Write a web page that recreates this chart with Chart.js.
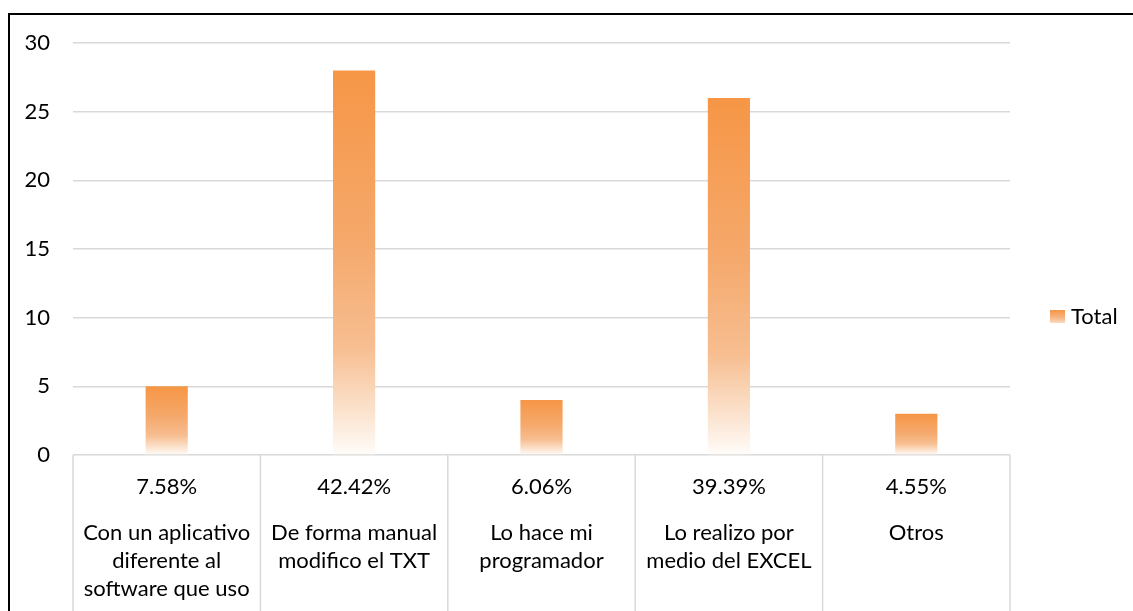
<!DOCTYPE html>
<html>
<head>
<meta charset="utf-8">
<script src="https://cdn.jsdelivr.net/npm/chart.js@4"></script>
<style>
  html, body { margin: 0; padding: 0; background: #fff; overflow: hidden; }
  #wrap { position: absolute; left: 0; top: 0; width: 1133px; height: 634px; }
  #frame { position: absolute; left: 8px; top: 13px; width: 1200px; height: 700px;
           border-left: 2px solid #000; border-top: 2px solid #000; pointer-events: none; }
</style>
</head>
<body>
<div id="wrap"><canvas id="myBarChart" width="1133" height="634"></canvas></div>
<div id="frame"></div>
<script>
const categories = [
    ['Con un aplicativo', 'diferente al', 'software que uso'],
    ['De forma manual', 'modifico el TXT'],
    ['Lo hace mi', 'programador'],
    ['Lo realizo por', 'medio del EXCEL'],
    ['Otros']
];
const totals = [5, 28, 4, 26, 3];
const percentLabels = ['7.58%', '42.42%', '6.06%', '39.39%', '4.55%'];
const yTicks = [0, 5, 10, 15, 20, 25, 30];
const seriesName = 'Total';

const FONT = 'Lato';
const FSIZE = 22;

const barFill = (ctx) => {
    const chart = ctx.chart;
    if (!chart.chartArea || ctx.type !== 'data') return '#F79646';
    const y = chart.scales.y;
    const top = y.getPixelForValue(ctx.raw);
    const bottom = y.getPixelForValue(0);
    const g = chart.ctx.createLinearGradient(0, top, 0, bottom);
    g.addColorStop(0, '#F69646');
    g.addColorStop(0.45, '#F5A96C');
    g.addColorStop(0.72, '#F7BE91');
    g.addColorStop(0.88, '#FBE1CB');
    g.addColorStop(1, '#FFFCF9');
    return g;
}

// table under the axis (lines, percentages, category names) + legend on the right
const tablePlugin = {
    id: 'tablePlugin',
    afterDraw(chart) {
        const c = chart.ctx;
        const x = chart.scales.x;
        const area = chart.chartArea;
        c.save();
        c.strokeStyle = '#d9d9d9';
        c.lineWidth = 1.5;
        for (let i = 0; i <= categories.length; i++) {
            const px = x.getPixelForValue(i - 0.5);
            c.beginPath();
            c.moveTo(px, area.bottom);
            c.lineTo(px, chart.height);
            c.stroke();
        }
        c.fillStyle = '#000';
        c.font = FSIZE + 'px ' + FONT;
        c.textAlign = 'center';
        c.textBaseline = 'middle';
        percentLabels.forEach((p, i) => {
            c.fillText(p, x.getPixelForValue(i), area.bottom + 32);
        });
        categories.forEach((lines, i) => {
            lines.forEach((txt, j) => {
                c.fillText(txt, x.getPixelForValue(i), area.bottom + 78 + j * 28);
            });
        });

        // legend
        const lx = area.right + 40, ly = 310;
        const g = c.createLinearGradient(0, ly, 0, ly + 13);
        g.addColorStop(0, '#F69646');
        g.addColorStop(0.6, '#F7B683');
        g.addColorStop(1, '#FBDCC2');
        c.fillStyle = g;
        c.fillRect(lx, ly, 15, 13);
        c.fillStyle = '#000';
        c.textAlign = 'left';
        c.fillText(seriesName, lx + 21, ly + 7);
        c.restore();
    }
}

const ctx = document.getElementById('myBarChart').getContext('2d');

const data = {
    labels: categories.map(l => l.join(' ')),
    datasets: [{
        label: seriesName,
        data: totals,
        backgroundColor: barFill,
        borderWidth: 0,
        barPercentage: 0.45,
        categoryPercentage: 0.5
    }]
};

const config = {
    type: 'bar',
    data: data,
    plugins: [tablePlugin],
    options: {
        responsive: false,
        animation: false,
        layout: { padding: { top: 43, left: 0, right: 123, bottom: 0 } },
        plugins: {
            tooltip: { enabled: false },
            legend: { display: false }
        },
        scales: {
            x: {
                grid: { display: false },
                border: { display: false },
                ticks: { display: false },
                afterFit: (s) => { s.height = 179; }
            },
            y: {
                min: 0,
                max: 30,
                afterBuildTicks: (s) => { s.ticks = yTicks.map(v => ({ value: v })); },
                grid: { color: '#d9d9d9', lineWidth: 1.5, drawTicks: false },
                border: { display: false },
                ticks: {
                    color: '#000',
                    font: { family: FONT, size: FSIZE },
                    padding: 23
                },
                afterFit: (s) => { s.width = 73; }
            }
        }
    }
};

const myBarChart = new Chart(ctx, config);
</script>
</body>
</html>
